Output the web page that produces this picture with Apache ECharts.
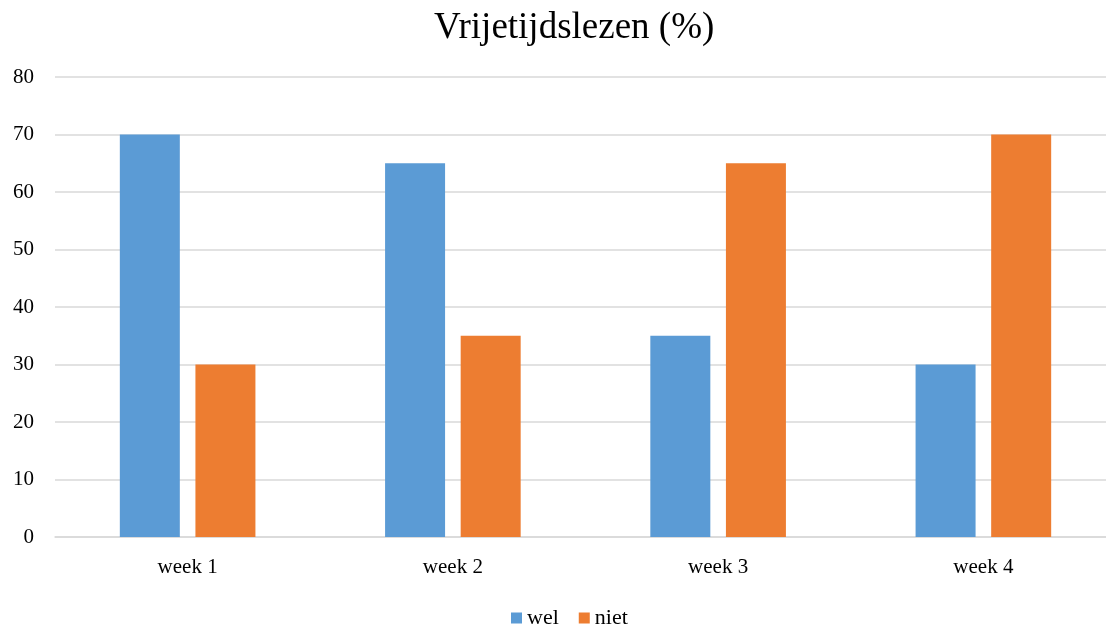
<!DOCTYPE html>
<html><head><meta charset="utf-8">
<script src="https://cdn.jsdelivr.net/npm/echarts@6/dist/echarts.min.js"></script>
<style>html,body{margin:0;padding:0;background:#fff}#c{width:1106px;height:628px}</style>
</head><body><div id="c"></div>
<script>
const categories = ['week 1', 'week 2', 'week 3', 'week 4'];
const wel = [70, 65, 35, 30];
const niet = [30, 35, 65, 70];
const yTicks = [0, 10, 20, 30, 40, 50, 60, 70, 80];

const font = 'Liberation Serif';
echarts.registerTheme('serifTheme', {
  textStyle: { fontFamily: font },
  legend: { textStyle: { fontFamily: font } }
});
const chart = echarts.init(document.getElementById('c'), 'serifTheme');
chart.setOption({
  backgroundColor: '#fff',
  animation: false,
  textStyle: { fontFamily: font },
  title: {
    text: 'Vrijetijdslezen (%)', left: 429, top: 5,
    textStyle: { fontFamily: font, fontSize: 37, fontWeight: 'normal', color: '#000' }
  },
  legend: {
    top: 602, left: 506, itemWidth: 11, itemHeight: 11, itemGap: 20,
    icon: 'rect',
    textStyle: { fontFamily: font, fontSize: 22, fontWeight: 'normal', color: '#000' },
    data: ['wel', 'niet']
  },
  grid: { left: 55, top: 77, width: 1061, bottom: 91, containLabel: false, outerBoundsMode: 'none' },
  xAxis: {
    type: 'category', data: categories,
    axisLine: { lineStyle: { color: '#d9d9d9', width: 1.5 } },
    axisTick: { show: false },
    axisLabel: { fontFamily: font, fontSize: 21, color: '#000', margin: 20 }
  },
  yAxis: {
    type: 'value', min: yTicks[0], max: yTicks[yTicks.length - 1], interval: 10,
    axisLine: { show: false }, axisTick: { show: false },
    splitLine: { lineStyle: { color: '#d9d9d9', width: 1.5 } },
    axisLabel: { fontFamily: font, fontSize: 21, color: '#000', margin: 21 }
  },
  series: [
    { name: 'wel', type: 'bar', data: wel, barWidth: 60, barGap: '26%', itemStyle: { color: '#5B9BD5' } },
    { name: 'niet', type: 'bar', data: niet, barWidth: 60, itemStyle: { color: '#ED7D31' } }
  ]
});
</script></body></html>
